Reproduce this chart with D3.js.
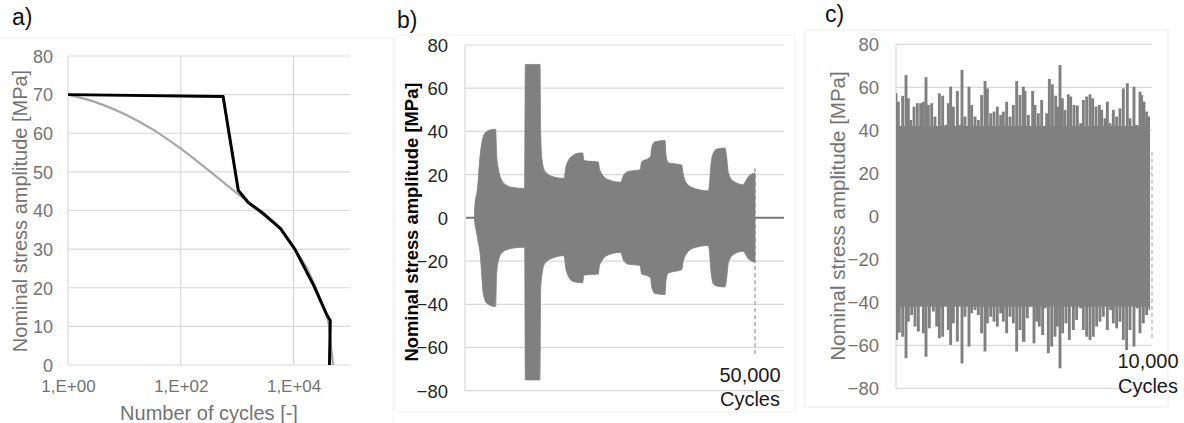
<!DOCTYPE html>
<html><head><meta charset="utf-8">
<script src="https://cdn.jsdelivr.net/npm/d3@7"></script>
<style>body{margin:0;background:#fff}svg{display:block;font-family:"Liberation Sans",Arial,sans-serif}</style>
</head><body><svg id="chart" width="1184" height="423"></svg>
<script>
// ---------------- DATA ----------------
// Panel a: S-N curves (cycles, MPa)
const aYTicks = [0,10,20,30,40,50,60,70,80];
const aXTicks = [1,100,10000];
const aXTickLabels = ["1,E+00","1,E+02","1,E+04"];
const aBlackN = [1,562,1047,1585,2754,5888,10715,22909,39355,44668,43251];
const aBlackS = [70,69.5,45.2,42,39.5,35.3,29.8,20.5,12.8,11.5,0];
const aGrayN = [1,3.16,10,31.6,100,316,1000,1778,3162,5623,10000,17783,31623,41687,46000,50119];
const aGrayS = [70,68,65,61,56,50.3,44.4,41.5,38.4,35.4,30.5,24.6,16,10.9,5,0];
const aXTitle = "Number of cycles [-]";
const yTitle = "Nominal stress amplitude [MPa]";

// Panel b: block loading envelope
const bYTicks = [-80,-60,-40,-20,0,20,40,60,80];
const bCycles = [1609,1724,2011,2126,2586,3161,3736,5172,5287,5460,5805,6322,7184,8333,10172,10287,10402,12931,13046,13276,13793,15230,16954,17126,17299,17816,18678,19828,20287,20517,22988,23161,23563,24425,26724,26839,27299,28161,30172,30460,31609,32011,32184,32759,34483,34655,35057,37356,37644,38218,39368,41954,42126,42414,42816,43391,44828,45115,45402,46264,47989,48276,48851,49425,50000];
const bUpper = [0,6.8,11,13,28.4,37.7,40,41,41,29,22,17.5,15,14,13.6,13.6,71,71,40,27,21.5,19,18.3,18.3,22,26.5,29,30,30,26.5,25.8,23,20.5,18,16.5,16.5,19.5,21.5,22.2,26,27.5,28.5,32.5,35.2,35.8,29,25.5,24.5,20,16,13.8,12.5,15,25,30,31.8,32.3,28,21,17,15.3,16.5,19,20.3,20.7];
const bLower = [0,-3,-7,-9,-16,-35,-39.5,-41,-41,-25.6,-19.4,-16.3,-14.8,-14,-13.6,-13.6,-75,-75,-33,-26,-21,-18.5,-17.5,-18,-22,-27,-29.5,-30,-30,-26.5,-26,-22.5,-20,-17.5,-16,-16,-19.5,-21.5,-22,-26,-27,-28,-32,-35,-35.5,-29,-25.5,-24,-20,-16.5,-14,-12.8,-15,-25,-30.5,-31.5,-32,-28,-21,-17,-15.5,-16.5,-19,-20,-20.5];
const bEndCycles = 50000, bEndLabel = "50,000", bMaxCycles = 55000;

// Panel c: random loading peaks
const cYTicks = [-80,-60,-40,-20,0,20,40,60,80];
const cUpCycles = [0,91,260,391,482,573,703,833,964,1068,1172,1263,1393,1523,1693,1823,1953,2044,2135,2240,2396,2500,2578,2695,2851,2956,3086,3216,3346,3477,3568,3698,3828,3958,4088,4193,4323,4453,4583,4714,4844,4974,5039,5169,5338,5430,5560,5690,5781,5885,5990,6107,6237,6341,6406,6497,6602,6732,6823,6953,7083,7213,7318,7448,7578,7682,7812,7943,8034,8164,8255,8359,8489,8620,8750,8880,9036,9140,9296,9401,9531,9596,9687,9791,9883,9987];
const cUpVals = [57.2,53.3,56,65.7,54.9,44.8,51,52.6,52.6,53.3,64.7,51.8,52.6,46.4,57.2,56.1,42.5,52.6,60.3,51,58.3,42.5,68.1,46.4,60.3,51.8,46.4,44.8,56.4,62.9,59.5,47.9,48.7,51,47.1,48.7,53.3,46.4,51.8,62.9,56.4,60.3,58.3,47.1,58.3,51.8,47.9,54.1,41.7,47.9,63.9,61.4,56.1,51,70.4,54.9,49.5,56.7,55.7,51.8,51.5,43.3,54.1,55.7,56.7,54.9,51,51.8,49.5,45.6,53.3,43.3,49.5,46.4,50.2,59.5,61.9,45.6,60.3,42.5,58,56.4,53.3,48.7,46.4,44];
const cLoCycles = [26,130,260,391,482,612,742,872,964,1068,1172,1302,1458,1589,1693,1823,1953,2044,2135,2240,2396,2500,2578,2695,2851,2956,3086,3216,3346,3477,3568,3698,3828,3958,4088,4193,4323,4453,4583,4714,4844,4974,5000,5130,5234,5390,5495,5599,5729,5820,5950,6081,6211,6302,6406,6510,6640,6771,6927,7057,7213,7318,7448,7578,7708,7838,7968,8099,8255,8385,8489,8620,8750,8880,9010,9140,9296,9427,9531,9661,9791,9921];
const cLoVals = [-57.5,-54.1,-56,-66,-49,-45.9,-51.3,-53.6,-41.2,-54.4,-65.3,-52.1,-44.3,-51.3,-56.7,-56,-40.5,-52.9,-59.8,-49.8,-58.3,-41.2,-68.4,-46.7,-60.6,-45.1,-43.6,-45.9,-54.4,-62.9,-49.8,-46.7,-49,-51.3,-45.1,-49,-54.4,-46.7,-49.8,-62.9,-52.9,-58.3,-58.3,-47.4,-42,-59.1,-49,-51.3,-55.2,-42.8,-63.7,-60.6,-56,-51.3,-70.7,-54.4,-49.8,-57.5,-52.9,-48.2,-42.8,-52.9,-56,-57.5,-56,-51.3,-49,-46.7,-52.9,-43.6,-49.8,-52.1,-49,-57.5,-62.2,-52.9,-60.6,-42.8,-54.4,-49.8,-45.9,-43.6];
const cBase = 42;
const cEndCycles = 10000, cEndLabel = "10,000";
const cyclesLabel = "Cycles";
const panelLabels = ["a)","b)","c)"];

// ---------------- DRAW ----------------
const svg = d3.select("#chart");
const GRID = "#d9d9d9", FILL = "#808080";

// chart area borders (faint)
svg.append("rect").attr("x",-1).attr("y",38).attr("width",394).attr("height",390).attr("fill","none").attr("stroke","#f0f0f0");
svg.append("rect").attr("x",395).attr("y",35).attr("width",400).attr("height",377).attr("fill","none").attr("stroke","#f0f0f0");
svg.append("rect").attr("x",805).attr("y",30).attr("width",363).attr("height",377).attr("fill","none").attr("stroke","#ececec");

// ---- Panel a ----
{
  const x = d3.scaleLog().domain([1,1e5]).range([68,350]);
  const y = d3.scaleLinear().domain([0,80]).range([365,56]);
  const g = svg.append("g");
  g.selectAll(".hg").data(aYTicks).join("line")
    .attr("x1",68).attr("x2",350).attr("y1",d=>y(d)).attr("y2",d=>y(d))
    .attr("stroke",GRID).attr("stroke-width",1.2);
  g.selectAll(".vg").data(aXTicks).join("line")
    .attr("x1",d=>x(d)).attr("x2",d=>x(d)).attr("y1",y(0)).attr("y2",y(80))
    .attr("stroke",GRID).attr("stroke-width",1.2);
  const ya = d3.axisLeft(y).tickValues(aYTicks).tickSize(0).tickPadding(15);
  const yg = g.append("g").attr("transform","translate(68,0)").call(ya);
  yg.select(".domain").remove();
  yg.selectAll("text").attr("font-size",18).attr("fill","#737373").attr("font-family","Liberation Sans, Arial").attr("dy","0.35em");
  const xa = d3.axisBottom(x).tickValues(aXTicks).tickFormat((d,i)=>aXTickLabels[i]).tickSize(0).tickPadding(15);
  const xg = g.append("g").attr("transform","translate(0,365)").call(xa);
  xg.select(".domain").remove();
  xg.selectAll("text").attr("font-size",17).attr("fill","#737373").attr("font-family","Liberation Sans, Arial");
  const smooth = d3.line().x(d=>x(d[0])).y(d=>y(d[1])).curve(d3.curveMonotoneX);
  const line = d3.line().x(d=>x(d[0])).y(d=>y(d[1]));
  g.append("path").datum(aGrayN.map((n,i)=>[n,aGrayS[i]]))
    .attr("d",smooth).attr("fill","none").attr("stroke","#a6a6a6").attr("stroke-width",2.2);
  g.append("path").datum(aBlackN.map((n,i)=>[n,aBlackS[i]]))
    .attr("d",line).attr("fill","none").attr("stroke","#000").attr("stroke-width",3).attr("stroke-linejoin","round");
  g.append("text").attr("x",209).attr("y",420).attr("text-anchor","middle")
    .attr("font-size",20).attr("fill","#737373").text(aXTitle);
  g.append("text").attr("transform","translate(27,211) rotate(-90)").attr("text-anchor","middle")
    .attr("font-size",20).attr("fill","#737373").text(yTitle);
  svg.append("text").attr("x",12).attr("y",25).attr("font-size",23).attr("fill","#111").text(panelLabels[0]);
}

// ---- Panel b ----
{
  const x = d3.scaleLinear().domain([0,bMaxCycles]).range([465,784]);
  const y = d3.scaleLinear().domain([-80,80]).range([390.7,45]);
  const g = svg.append("g");
  g.selectAll(".hg").data(bYTicks.filter(d=>d!==0)).join("line")
    .attr("x1",465).attr("x2",784).attr("y1",d=>y(d)).attr("y2",d=>y(d))
    .attr("stroke",GRID).attr("stroke-width",1.2);
  g.append("line").attr("x1",465).attr("x2",465).attr("y1",y(-80)).attr("y2",y(80)).attr("stroke",GRID).attr("stroke-width",1.2);
  g.append("line").attr("x1",466).attr("x2",784).attr("y1",y(0)).attr("y2",y(0)).attr("stroke","#7a7a7a").attr("stroke-width",2);
  const area = d3.area().x(d=>x(d[0])).y0(d=>y(d[2])).y1(d=>y(d[1])).curve(d3.curveMonotoneX);
  g.append("path").datum(bCycles.map((c,i)=>[c,bUpper[i],bLower[i]]))
    .attr("d",area).attr("fill",FILL).attr("stroke",FILL).attr("stroke-width",0.8);
  g.append("line").attr("x1",x(bEndCycles)).attr("x2",x(bEndCycles)).attr("y1",y(23)).attr("y2",y(-63))
    .attr("stroke","#808080").attr("stroke-width",1).attr("stroke-dasharray","4,3");
  const ya = d3.axisLeft(y).tickValues(bYTicks).tickSize(0).tickPadding(17);
  const yg = g.append("g").attr("transform","translate(465,0)").call(ya);
  yg.select(".domain").remove();
  yg.selectAll("text").attr("font-size",18.5).attr("fill","#262626").attr("font-family","Liberation Sans, Arial").attr("dy","0.35em");
  g.append("text").attr("x",x(bEndCycles)-5).attr("y",382).attr("text-anchor","middle").attr("font-size",20).attr("fill","#1a1a1a").text(bEndLabel);
  g.append("text").attr("x",x(bEndCycles)-5).attr("y",406).attr("text-anchor","middle").attr("font-size",20).attr("fill","#1a1a1a").text(cyclesLabel);
  g.append("text").attr("transform","translate(418,222) rotate(-90)").attr("text-anchor","middle")
    .attr("font-size",18.4).attr("font-weight","bold").attr("fill","#000").text(yTitle);
  svg.append("text").attr("x",397).attr("y",28).attr("font-size",23).attr("fill","#111").text(panelLabels[1]);
}

// ---- Panel c ----
{
  const x = d3.scaleLinear().domain([0,cEndCycles]).range([896,1152]);
  const y = d3.scaleLinear().domain([-80,80]).range([388.3,44.3]);
  const g = svg.append("g");
  g.selectAll(".hg").data(cYTicks).join("line")
    .attr("x1",896).attr("x2",1152).attr("y1",d=>y(d)).attr("y2",d=>y(d))
    .attr("stroke",GRID).attr("stroke-width",1.2);
  g.append("line").attr("x1",896).attr("x2",896).attr("y1",y(-80)).attr("y2",y(80)).attr("stroke",GRID).attr("stroke-width",1.2);
  g.append("line").attr("x1",x(cEndCycles)).attr("x2",x(cEndCycles)).attr("y1",y(30)).attr("y2",y(-58))
    .attr("stroke","#9a9a9a").attr("stroke-width",1).attr("stroke-dasharray","4,3");
  svg.append("clipPath").attr("id","cclip").append("rect")
    .attr("x",896).attr("y",0).attr("width",254).attr("height",423);
  const fg = g.append("g").attr("clip-path","url(#cclip)");
  fg.append("rect").attr("x",x(0)).attr("width",x(cEndCycles)-x(0)-2).attr("y",y(cBase)).attr("height",y(-cBase)-y(cBase)).attr("fill",FILL);
  fg.selectAll(".up").data(cUpCycles.map((c,i)=>[c,cUpVals[i]])).join("line")
    .attr("x1",d=>x(d[0])).attr("x2",d=>x(d[0])).attr("y1",y(0)).attr("y2",d=>y(d[1]))
    .attr("stroke",FILL).attr("stroke-width",2.9);
  fg.selectAll(".lo").data(cLoCycles.map((c,i)=>[c,cLoVals[i]])).join("line")
    .attr("x1",d=>x(d[0])).attr("x2",d=>x(d[0])).attr("y1",y(0)).attr("y2",d=>y(d[1]))
    .attr("stroke",FILL).attr("stroke-width",2.9);
  const ya = d3.axisLeft(y).tickValues(cYTicks).tickSize(0).tickPadding(17);
  const yg = g.append("g").attr("transform","translate(896,0)").call(ya);
  yg.select(".domain").remove();
  yg.selectAll("text").attr("font-size",18.5).attr("fill","#737373").attr("font-family","Liberation Sans, Arial").attr("dy","0.35em");
  g.append("text").attr("x",1148).attr("y",368).attr("text-anchor","middle").attr("font-size",20).attr("fill","#1a1a1a").text(cEndLabel);
  g.append("text").attr("x",1148).attr("y",393).attr("text-anchor","middle").attr("font-size",20).attr("fill","#1a1a1a").text(cyclesLabel);
  g.append("text").attr("transform","translate(845,216) rotate(-90)").attr("text-anchor","middle")
    .attr("font-size",20.5).attr("fill","#737373").text(yTitle);
  svg.append("text").attr("x",825).attr("y",22).attr("font-size",23).attr("fill","#111").text(panelLabels[2]);
}
</script></body></html>
